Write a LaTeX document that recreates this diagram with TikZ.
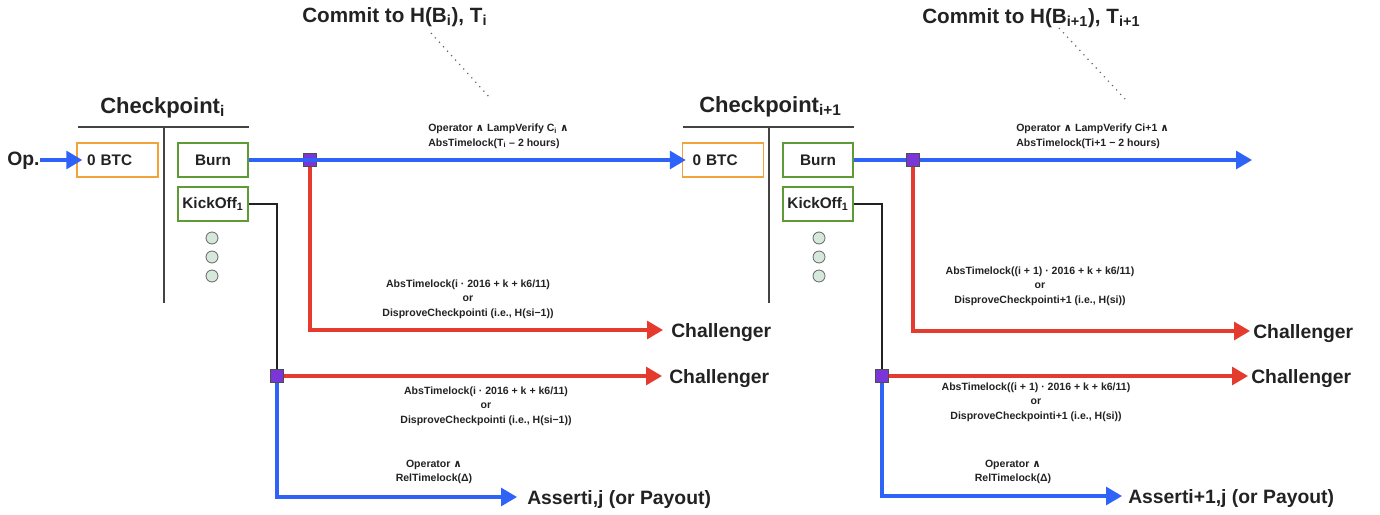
\documentclass[tikz,border=0pt]{standalone}
\usepackage{fontspec}
\setmainfont{Liberation Sans}
\newfontfamily\symf{DejaVu Sans}
\usetikzlibrary{arrows.meta,backgrounds}
\definecolor{txt}{HTML}{222222}
\definecolor{flowblue}{HTML}{2F62F7}
\definecolor{flowred}{HTML}{E53B2F}
\definecolor{junction}{HTML}{7B36D9}
\definecolor{orangeb}{HTML}{F2A33A}
\definecolor{greenb}{HTML}{5E9A36}
\definecolor{dotfill}{HTML}{D5E8DB}
\newcommand{\andsym}{{\symf\bfseries ∧}}
\tikzset{
  every node/.style={text=txt},
  box/.style={draw, line width=1.1pt, minimum height=25.5pt, inner sep=0pt,
    font=\fontsize{11.5}{13}\selectfont\bfseries},
  obox/.style={box, draw=orangeb, text width=45.75pt, inner xsep=7.5pt, align=left},
  gbox/.style={box, draw=greenb, minimum width=52.5pt},
  pebble/.style={circle, draw=txt!70, fill=dotfill, line width=0.6pt,
    minimum size=9pt, inner sep=0pt},
  joint/.style={rectangle, draw=txt!80, fill=junction, line width=0.8pt,
    minimum size=10pt, inner sep=0pt},
  heading/.style={inner sep=0pt, anchor=base west, font=\fontsize{16.5}{19}\selectfont\bfseries},
  commit/.style={inner sep=0pt, anchor=base west, font=\fontsize{15.5}{18}\selectfont\bfseries},
  party/.style={inner sep=0pt, anchor=west, text depth=0pt, font=\fontsize{14.5}{17}\selectfont\bfseries},
  cond/.style={inner sep=0pt, align=center, font=\fontsize{7.9}{11}\selectfont\bfseries},
  condl/.style={cond, align=left, anchor=west},
  bluel/.style={draw=flowblue, line width=2.3pt},
  redl/.style={draw=flowred, line width=2.3pt},
  tip/.style={-{Triangle[length=12pt,width=13.5pt]}},
  wire/.style={draw=txt, line width=1.2pt},
  divider/.style={draw=txt!85, line width=1.5pt},
  hint/.style={draw=txt!70, line width=0.9pt, dash pattern=on 0.9pt off 3.6pt}
}
\begin{document}
\begin{tikzpicture}[x=0.75pt,y=-0.75pt]
\useasboundingbox (0,0) rectangle (1380,514);

% ---------- checkpoint i ----------
\node[heading] (cp1) at (100,113) {Checkpoint\textsubscript{i}};
\coordinate (cp1l) at (78,127);
\coordinate (cp1r) at (249,127);
\coordinate (cp1t) at (164,127);
\coordinate (cp1b) at (164,303);
\draw[divider] (cp1l) -- (cp1r);
\draw[divider] (cp1t) -- (cp1b);

\node[party] (op) at (7,159) {Op.};
\node[obox] (btc1) at (117.5,160) {0 BTC};
\node[gbox] (burn1) at (213,160) {Burn};
\node[gbox] (kick1) at (213,204) {KickOff\textsubscript{1}};
\node[pebble] (p11) at (212,238) {};
\node[pebble] (p12) at (212,257) {};
\node[pebble] (p13) at (212,276) {};

\node[commit] (com1) at (302,22) {Commit to H(B\textsubscript{i}), T\textsubscript{i}};
\coordinate (h1s) at (431,33);
\coordinate (h1e) at (491,99);
\draw[hint] (h1s) -- (h1e);

\node[condl] (c1top) at (428,136) {Operator \andsym{} LampVerify C\textsubscript{i} \andsym\\AbsTimelock(T\textsubscript{i} – 2 hours)};

\node[joint] (j1) at (310,160) {};
\node[joint] (j2) at (277,376) {};

\node[party] (ch1) at (671,330) {Challenger};
\node[party] (ch2) at (669,376) {Challenger};
\node[party] (as1) at (527,497) {Asserti,j (or Payout)};

\node[cond] (c1a) at (468,299) {AbsTimelock(i · 2016 + k + k6/11)\\or\\DisproveCheckpointi (i.e., H(si−1))};
\node[cond] (c1b) at (486,406) {AbsTimelock(i · 2016 + k + k6/11)\\or\\DisproveCheckpointi (i.e., H(si−1))};
\node[cond] (c1c) at (434,472) {Operator \andsym\\RelTimelock(Δ)};

% ---------- checkpoint i+1 ----------
\node[heading] (cp2) at (699,112) {Checkpoint\textsubscript{i+1}};
\coordinate (cp2l) at (683,127);
\coordinate (cp2r) at (854,127);
\coordinate (cp2t) at (769,127);
\coordinate (cp2b) at (769,303);
\draw[divider] (cp2l) -- (cp2r);
\draw[divider] (cp2t) -- (cp2b);

\node[obox] (btc2) at (723,160) {0 BTC};
\node[gbox] (burn2) at (818,160) {Burn};
\node[gbox] (kick2) at (818,204) {KickOff\textsubscript{1}};
\node[pebble] (p21) at (819,238) {};
\node[pebble] (p22) at (819,257) {};
\node[pebble] (p23) at (819,276) {};

\node[commit] (com2) at (922,23) {Commit to H(B\textsubscript{i+1}), T\textsubscript{i+1}};
\coordinate (h2s) at (1059,28);
\coordinate (h2e) at (1125,99);
\draw[hint] (h2s) -- (h2e);

\node[condl] (c2top) at (1016,136) {Operator \andsym{} LampVerify Ci+1 \andsym\\AbsTimelock(Ti+1 − 2 hours)};

\node[joint] (j3) at (913,160) {};
\node[joint] (j4) at (882,376) {};
\coordinate (out) at (1252,160);

\node[party] (ch3) at (1253,331) {Challenger};
\node[party] (ch4) at (1251,376) {Challenger};
\node[party] (as2) at (1128,496) {Asserti+1,j (or Payout)};

\node[cond] (c2a) at (1040,286) {AbsTimelock((i + 1) · 2016 + k + k6/11)\\or\\DisproveCheckpointi+1 (i.e., H(si))};
\node[cond] (c2b) at (1036,402) {AbsTimelock((i + 1) · 2016 + k + k6/11)\\or\\DisproveCheckpointi+1 (i.e., H(si))};
\node[cond] (c2c) at (1013,472) {Operator \andsym\\RelTimelock(Δ)};

% ---------- flows into the 0 BTC outputs (tips drawn over the boxes) ----------
\draw[bluel, tip, shorten >=-4.5pt] (op.east |- btc1.west) -- (btc1.west);
\draw[bluel, tip, shorten >=-3pt] (burn1.east) -- (btc2.west);

% ---------- remaining flows, under the junction squares ----------
\begin{scope}[on background layer]
  \draw[redl, tip, shorten >=6pt] (j1.center) |- (ch1.west);
  \draw[wire] (kick1.east) -| (j2.center);
  \draw[redl, tip, shorten >=5.25pt] (j2.center) -- (ch2.west);
  \draw[bluel, tip, shorten >=7.5pt] (j2.center) |- (as1.west);

  \draw[bluel, tip] (burn2.east) -- (out);
  \draw[redl, tip, shorten >=2.25pt] (j3.center) |- (ch3.west);
  \draw[wire] (kick2.east) -| (j4.center);
  \draw[redl, tip, shorten >=2.25pt] (j4.center) -- (ch4.west);
  \draw[bluel, tip, shorten >=4.5pt] (j4.center) |- (as2.west);
\end{scope}
\end{tikzpicture}
\end{document}
